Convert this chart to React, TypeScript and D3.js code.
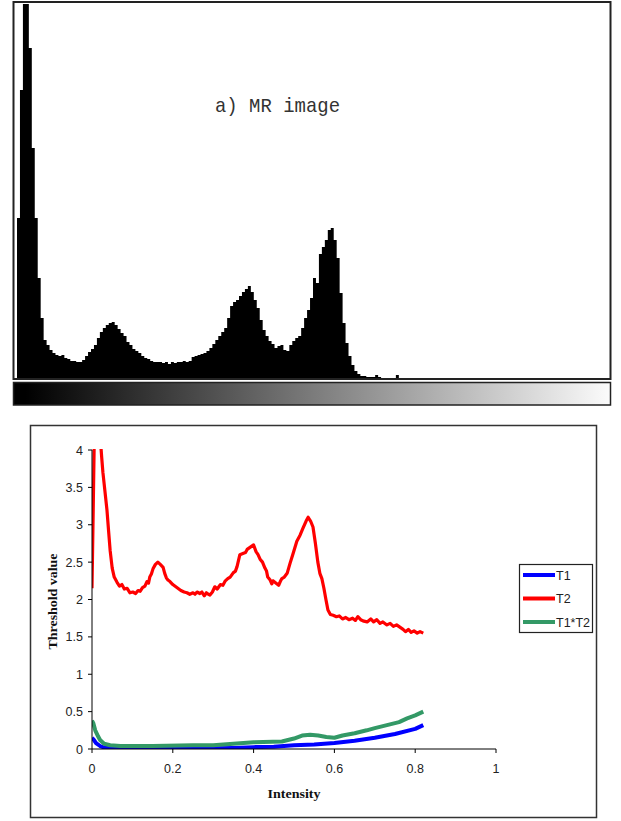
import * as d3 from "d3";

// --- top panel: grey-level histogram of the MR image (counts per bin, 200 bins over 0..255)
const histBinTotal = 200;
const histCounts = [
  160, 288, 420, 400, 330, 230, 160, 100, 60, 38, 33, 28, 25, 23, 22, 23, 20, 19, 17, 17,
  16, 16, 18, 22, 26, 29, 33, 40, 46, 50, 53, 55, 56, 53, 49, 45, 42, 36, 33, 29,
  27, 25, 22, 20, 19, 17, 16, 16, 16, 15, 16, 14, 16, 15, 16, 16, 17, 16, 17, 21,
  22, 23, 24, 25, 27, 30, 34, 38, 42, 46, 50, 60, 72, 76, 78, 82, 86, 89, 92, 86,
  78, 70, 58, 48, 42, 37, 34, 30, 32, 33, 28, 27, 33, 37, 40, 42, 50, 60, 68, 80,
  100, 95, 124, 131, 138, 148, 150, 138, 120, 85, 55, 35, 22, 13, 7, 4, 2, 2, 1, 1,
  1, 3, 1, 0, 0, 0, 0, 0, 3,
];

// --- bottom panel: threshold curves
const t2X = [
  0, 0.003, 0.006, 0.012, 0.02, 0.024, 0.027, 0.032, 0.037, 0.041, 0.045, 0.05, 0.055, 0.062,
  0.068, 0.074, 0.08, 0.087, 0.094, 0.101, 0.108, 0.114, 0.119, 0.125, 0.131, 0.136, 0.14,
  0.143, 0.147, 0.151, 0.157, 0.163, 0.169, 0.176, 0.18, 0.184, 0.188, 0.193, 0.2, 0.205,
  0.21, 0.215, 0.22, 0.228, 0.235, 0.242, 0.25, 0.255, 0.26, 0.267, 0.272, 0.278, 0.283,
  0.288, 0.292, 0.298, 0.304, 0.31, 0.318, 0.324, 0.33, 0.336, 0.342, 0.35, 0.355, 0.359,
  0.366, 0.375, 0.38, 0.384, 0.392, 0.4, 0.406, 0.411, 0.416, 0.422, 0.428, 0.432, 0.435,
  0.441, 0.445, 0.448, 0.455, 0.462, 0.466, 0.47, 0.476, 0.483, 0.49, 0.498, 0.507, 0.515,
  0.522, 0.53, 0.535, 0.541, 0.547, 0.553, 0.559, 0.564, 0.569, 0.574, 0.579, 0.584, 0.59,
  0.597, 0.605, 0.612, 0.62, 0.628, 0.636, 0.645, 0.652, 0.658, 0.665, 0.673, 0.681, 0.69,
  0.697, 0.705, 0.713, 0.72, 0.73, 0.738, 0.746, 0.754, 0.762, 0.77, 0.776, 0.783, 0.79,
  0.797, 0.805, 0.812, 0.82,
];
const t2Y = [
  2.15, 3.2, 4.3, 4.6, 4.2, 3.9, 3.7, 3.45, 3.2, 2.92, 2.65, 2.42, 2.3, 2.23,
  2.18, 2.2, 2.14, 2.15, 2.09, 2.1, 2.08, 2.12, 2.11, 2.16, 2.18, 2.24, 2.22,
  2.3, 2.34, 2.41, 2.47, 2.5, 2.47, 2.43, 2.35, 2.29, 2.26, 2.24, 2.2, 2.18,
  2.16, 2.14, 2.12, 2.1, 2.09, 2.07, 2.09, 2.07, 2.1, 2.08, 2.1, 2.05, 2.09,
  2.07, 2.06, 2.1, 2.17, 2.14, 2.2, 2.19, 2.25, 2.28, 2.3, 2.36, 2.38, 2.44,
  2.6, 2.62, 2.63, 2.67, 2.7, 2.73, 2.64, 2.6, 2.54, 2.5, 2.42, 2.38, 2.3,
  2.26, 2.21, 2.25, 2.22, 2.19, 2.24, 2.28, 2.3, 2.35, 2.48, 2.62, 2.78, 2.86,
  2.95, 3.05, 3.1, 3.05, 2.97, 2.75, 2.5, 2.35, 2.28, 2.15, 2.0, 1.86, 1.8,
  1.79, 1.77, 1.78, 1.74, 1.76, 1.73, 1.75, 1.72, 1.77, 1.73, 1.71, 1.7, 1.74,
  1.7, 1.73, 1.68, 1.7, 1.66, 1.68, 1.64, 1.66, 1.63, 1.6, 1.57, 1.6, 1.56,
  1.58, 1.55, 1.57, 1.55,
];

const t1X = [0, 0.005, 0.01, 0.02, 0.03, 0.04, 0.06, 0.1, 0.2, 0.3, 0.35, 0.4, 0.45, 0.5, 0.55, 0.6, 0.65, 0.7, 0.75, 0.8, 0.82];
const t1Y = [0.15, 0.12, 0.08, 0.04, 0.02, 0.01, 0.005, 0.005, 0.005, 0.01, 0.015, 0.025, 0.03, 0.05, 0.06, 0.08, 0.11, 0.15, 0.2, 0.27, 0.32];

const t12X = [0, 0.003, 0.008, 0.015, 0.02, 0.03, 0.045, 0.07, 0.15, 0.25, 0.3, 0.35, 0.4, 0.47, 0.5, 0.52, 0.54, 0.56, 0.58, 0.6, 0.62, 0.65, 0.68, 0.7, 0.73, 0.76, 0.78, 0.8, 0.82];
const t12Y = [0.38, 0.35, 0.25, 0.17, 0.12, 0.07, 0.05, 0.04, 0.04, 0.05, 0.05, 0.07, 0.09, 0.1, 0.14, 0.18, 0.19, 0.18, 0.16, 0.15, 0.18, 0.21, 0.25, 0.28, 0.32, 0.36, 0.41, 0.45, 0.5];

const yTicks = [0, 0.5, 1, 1.5, 2, 2.5, 3, 3.5, 4];
const yTickLabels = ["0", "0.5", "1", "1.5", "2", "2.5", "3", "3.5", "4"];
const xTicks = [0, 0.2, 0.4, 0.6, 0.8, 1];
const xTickLabels = ["0", "0.2", "0.4", "0.6", "0.8", "1"];

const seriesNames = ["T1", "T2", "T1*T2"];
const seriesColors = ["#0000ff", "#ff0000", "#339966"];

const zip = (xs: number[], ys: number[]) => xs.map((x, i) => [x, ys[i]] as [number, number]);

export default function App() {
  // histogram panel
  const hx = d3.scaleLinear().domain([0, histBinTotal]).range([17, 609]);
  const hy = d3.scaleLinear().domain([0, 374]).range([378, 4]).clamp(true);
  const histPts = histCounts.map((c, i) => [i, c] as [number, number]);
  histPts.push([histCounts.length, 0]);
  const histArea = d3
    .area<[number, number]>()
    .x((d) => hx(d[0]))
    .y0(hy(0))
    .y1((d) => hy(d[1]))
    .curve(d3.curveStepAfter);

  // threshold chart
  const x = d3.scaleLinear().domain([0, 1]).range([92, 496]);
  const y = d3.scaleLinear().domain([0, 4]).range([749, 450]);
  const line = d3
    .line<[number, number]>()
    .x((d) => x(d[0]))
    .y((d) => y(d[1]));

  const series = [zip(t1X, t1Y), zip(t2X, t2Y), zip(t12X, t12Y)];
  const widths = [4, 3.2, 4];

  return (
    <div style={{ position: "absolute", left: 0, top: 0, background: "#fff" }}>
      <svg width={621} height={821} style={{ display: "block" }}>
        <defs>
          <linearGradient id="grey" x1="0" x2="1" y1="0" y2="0">
            <stop offset="0" stopColor="#000" />
            <stop offset="0.02" stopColor="#000" />
            <stop offset="1" stopColor="#fbfbfb" />
          </linearGradient>
          <clipPath id="plot">
            <rect x={x(0)} y={y(4) - 1} width={x(1) - x(0)} height={y(0) - y(4) + 1} />
          </clipPath>
          <clipPath id="histClip">
            <rect x={14} y={3} width={596} height={376} />
          </clipPath>
        </defs>

        {/* top panel */}
        <path d={histArea(histPts) ?? ""} fill="#000" clipPath="url(#histClip)" />
        <rect x={13.5} y={2} width={597} height={377} fill="none" stroke="#222" strokeWidth={2} />
        <text
          x={215}
          y={112}
          fontFamily="'Liberation Mono', 'DejaVu Sans Mono', monospace"
          fontSize={21}
          textLength={125}
          lengthAdjust="spacingAndGlyphs"
          fill="#333"
        >
          a) MR image
        </text>
        <rect x={13.5} y={382.5} width={597} height={22.5} fill="url(#grey)" stroke="#222" strokeWidth={1.5} />

        {/* bottom panel */}
        <rect x={30.5} y={425.5} width={566} height={392} fill="#fff" stroke="#333" strokeWidth={1.5} />

        <g clipPath="url(#plot)">
          {series.map((s, i) => (
            <path
              key={seriesNames[i]}
              d={line(s) ?? ""}
              fill="none"
              stroke={seriesColors[i]}
              strokeWidth={widths[i]}
              strokeLinejoin="round"
            />
          ))}
        </g>

        <line x1={x(0)} x2={x(0)} y1={y(4)} y2={y(0)} stroke="#000" strokeWidth={1} />
        <line x1={x(0)} x2={x(1)} y1={y(0)} y2={y(0)} stroke="#000" strokeWidth={1} />

        {yTicks.map((t, i) => (
          <g key={`y${t}`}>
            <line x1={x(0) - 4} x2={x(0)} y1={y(t)} y2={y(t)} stroke="#000" />
            <text
              x={x(0) - 9}
              y={y(t)}
              dy="0.36em"
              textAnchor="end"
              fontFamily="'Liberation Sans', Arial, sans-serif"
              fontSize={12.5}
              fill="#222"
            >
              {yTickLabels[i]}
            </text>
          </g>
        ))}

        {xTicks.map((t, i) => (
          <g key={`x${t}`}>
            <line x1={x(t)} x2={x(t)} y1={y(0)} y2={y(0) + 4} stroke="#000" />
            <text
              x={x(t)}
              y={773}
              textAnchor="middle"
              fontFamily="'Liberation Sans', Arial, sans-serif"
              fontSize={12.5}
              fill="#222"
            >
              {xTickLabels[i]}
            </text>
          </g>
        ))}

        <text
          x={294}
          y={798}
          textAnchor="middle"
          fontFamily="'Liberation Serif', 'Times New Roman', serif"
          fontWeight="bold"
          fontSize={13}
          textLength={53}
          lengthAdjust="spacingAndGlyphs"
          fill="#111"
        >
          Intensity
        </text>
        <text
          transform={`translate(57, ${(y(0) + y(4)) / 2 + 2}) rotate(-90)`}
          textAnchor="middle"
          fontFamily="'Liberation Serif', 'Times New Roman', serif"
          fontWeight="bold"
          fontSize={12.5}
          textLength={96}
          lengthAdjust="spacingAndGlyphs"
          fill="#111"
        >
          Threshold value
        </text>

        {/* legend */}
        <g>
          <rect x={519.5} y={564.5} width={73} height={68} fill="#fff" stroke="#222" strokeWidth={1.2} />
          {seriesNames.map((name, i) => (
            <g key={name} transform={`translate(523, ${575 + i * 23.5})`}>
              <line x1={0} x2={32} y1={0} y2={0} stroke={seriesColors[i]} strokeWidth={4} />
              <text
                x={33}
                y={0}
                dy="0.36em"
                fontFamily="'Liberation Sans', Arial, sans-serif"
                fontSize={12.5}
                fill="#222"
              >
                {name}
              </text>
            </g>
          ))}
        </g>
      </svg>
    </div>
  );
}
